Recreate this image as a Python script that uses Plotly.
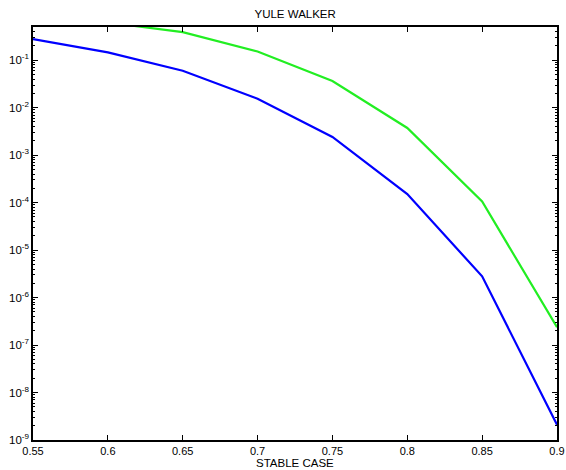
import plotly.graph_objects as go

x_vals = [0.55, 0.6, 0.65, 0.7, 0.75, 0.8, 0.85, 0.9]
blue_vals = [0.279, 0.146, 0.060, 0.0155, 0.00242, 1.52e-4, 2.8e-6, 2.1e-9]
green_vals = [1.0, 0.62, 0.39, 0.153, 0.0365, 3.74e-3, 1.06e-4, 2.37e-7]
x_ticks = [0.55, 0.6, 0.65, 0.7, 0.75, 0.8, 0.85, 0.9]
x_ticktext = ["0.55", "0.6", "0.65", "0.7", "0.75", "0.8", "0.85", "0.9"]
y_exps = [-9, -8, -7, -6, -5, -4, -3, -2, -1]
title_text = "YULE WALKER"
xlabel_text = "STABLE CASE"

y_ticks = [10.0 ** e for e in y_exps]
y_ticktext = ["10<sup>%d</sup>" % e for e in y_exps]
minor_vals = [m * 10.0 ** e for e in y_exps for m in range(2, 10)]

fig = go.Figure()
fig.add_trace(go.Scatter(x=x_vals, y=blue_vals, mode="lines",
                         line=dict(color="#0000ff", width=2.2), showlegend=False))
fig.add_trace(go.Scatter(x=x_vals, y=green_vals, mode="lines",
                         line=dict(color="#22ee22", width=2.2), showlegend=False))

font = "Liberation Sans, Arial, Helvetica, sans-serif"
fig.update_layout(
    width=566, height=470,
    margin=dict(l=33, r=9, t=27, b=30, autoexpand=False),
    paper_bgcolor="white", plot_bgcolor="white",
    font=dict(family=font, size=11, color="black"),
    title=dict(text=title_text, x=0.5215, xanchor="center", y=1 - 14 / 470,
               yanchor="middle", font=dict(size=11.5, family=font, color="black")),
    annotations=[dict(text=xlabel_text, xref="paper", yref="paper",
                      x=0.5, y=-29.5 / 413, xanchor="center", yanchor="bottom",
                      borderpad=0, showarrow=False,
                      font=dict(size=11.5, family=font, color="black"))],
)
fig.update_xaxes(
    range=[0.55, 0.9], tickvals=x_ticks, ticktext=x_ticktext,
    ticks="inside", ticklen=5, tickwidth=1, tickcolor="black",
    showline=True, linecolor="black", linewidth=1.5, mirror="ticks",
    showgrid=False, zeroline=False, automargin=False,
    ticklabeloverflow="allow", tickfont=dict(size=11),
)
fig.update_yaxes(
    type="log", range=[-9, -0.3], tickvals=y_ticks, ticktext=y_ticktext,
    ticks="inside", ticklen=5, tickwidth=1, tickcolor="black",
    showline=True, linecolor="black", linewidth=1.5, mirror="ticks",
    showgrid=False, zeroline=False, tickfont=dict(size=11.5), automargin=False,
    ticklabeloverflow="allow",
    minor=dict(tickvals=minor_vals, ticks="inside", ticklen=2.5,
               tickcolor="black", showgrid=False),
)
fig.write_html("out.html", config={"displayModeBar": False},
               post_script="document.body.style.margin='0';document.body.style.overflow='hidden';")
